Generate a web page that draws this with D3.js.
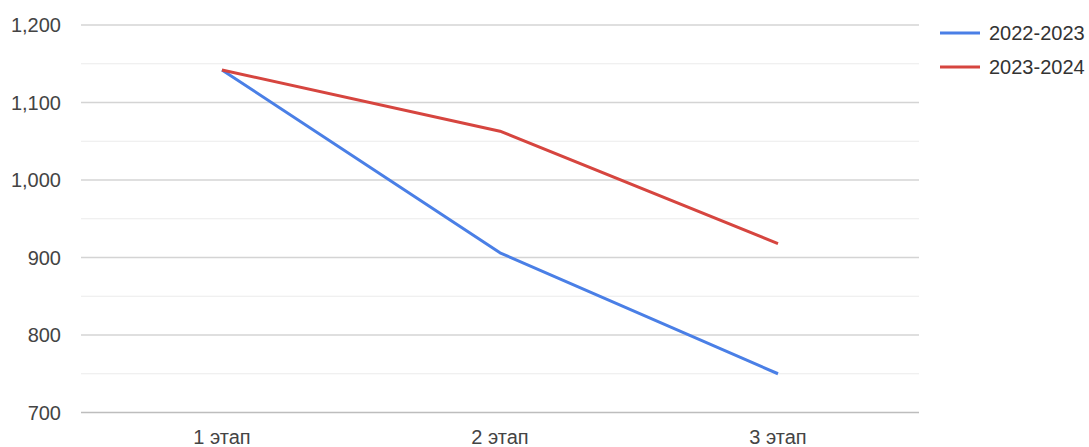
<!DOCTYPE html>
<html><head><meta charset="utf-8">
<script src="https://cdn.jsdelivr.net/npm/d3@7"></script>
<style>body{margin:0;background:#fff}svg{display:block}text{font-family:Arial,"Liberation Sans",sans-serif}</style>
</head><body><svg id="c" width="1089" height="447"></svg>
<script>
const categories = ["1 этап", "2 этап", "3 этап"];
const seriesNames = ["2022-2023", "2023-2024"];
const s2022 = [1142, 906, 750];
const s2023 = [1142, 1063, 918];
const yTicks = [700, 800, 900, 1000, 1100, 1200];
const yMinor = [750, 850, 950, 1050, 1150];
const colors = ["#4a7fe6", "#d6453f"];

const svg = d3.select("#c");
const x = d3.scaleBand().domain(categories).range([83, 917]);
const y = d3.scaleLinear().domain([700, 1200]).range([412.5, 25]);
const fmt = d3.format(",");

svg.append("g").selectAll("line").data(yMinor).join("line")
  .attr("x1", 81).attr("x2", 919)
  .attr("y1", d => y(d)).attr("y2", d => y(d))
  .attr("stroke", "#ebebeb").attr("stroke-width", 1.2);
svg.append("g").selectAll("line").data(yTicks).join("line")
  .attr("x1", 81).attr("x2", 919)
  .attr("y1", d => y(d)).attr("y2", d => y(d))
  .attr("stroke", d => d === 700 ? "#bdbdbd" : "#d4d4d4").attr("stroke-width", 1.5);

svg.append("g").selectAll("text").data(yTicks).join("text")
  .attr("x", 61).attr("y", d => y(d)).attr("dy", "0.35em")
  .attr("text-anchor", "end").attr("font-size", 20).attr("fill", "#444")
  .text(d => fmt(d));

svg.append("g").selectAll("text").data(categories).join("text")
  .attr("x", d => x(d) + x.bandwidth() / 2).attr("y", 444)
  .attr("text-anchor", "middle").attr("font-size", 20).attr("fill", "#444")
  .text(d => d);

const line = d3.line().x((d, i) => x(categories[i]) + x.bandwidth() / 2).y(d => y(d));
[s2022, s2023].forEach((s, k) => {
  svg.append("path").datum(s).attr("d", line)
    .attr("fill", "none").attr("stroke", colors[k]).attr("stroke-width", 3)
    .attr("stroke-linejoin", "round");
});

const leg = svg.append("g");
seriesNames.forEach((n, k) => {
  const yy = 33 + k * 34;
  leg.append("line").attr("x1", 940).attr("x2", 980).attr("y1", yy).attr("y2", yy)
    .attr("stroke", colors[k]).attr("stroke-width", 3);
  leg.append("text").attr("x", 989).attr("y", yy).attr("dy", "0.35em")
    .attr("font-size", 20).attr("fill", "#333").text(n);
});
</script></body></html>
